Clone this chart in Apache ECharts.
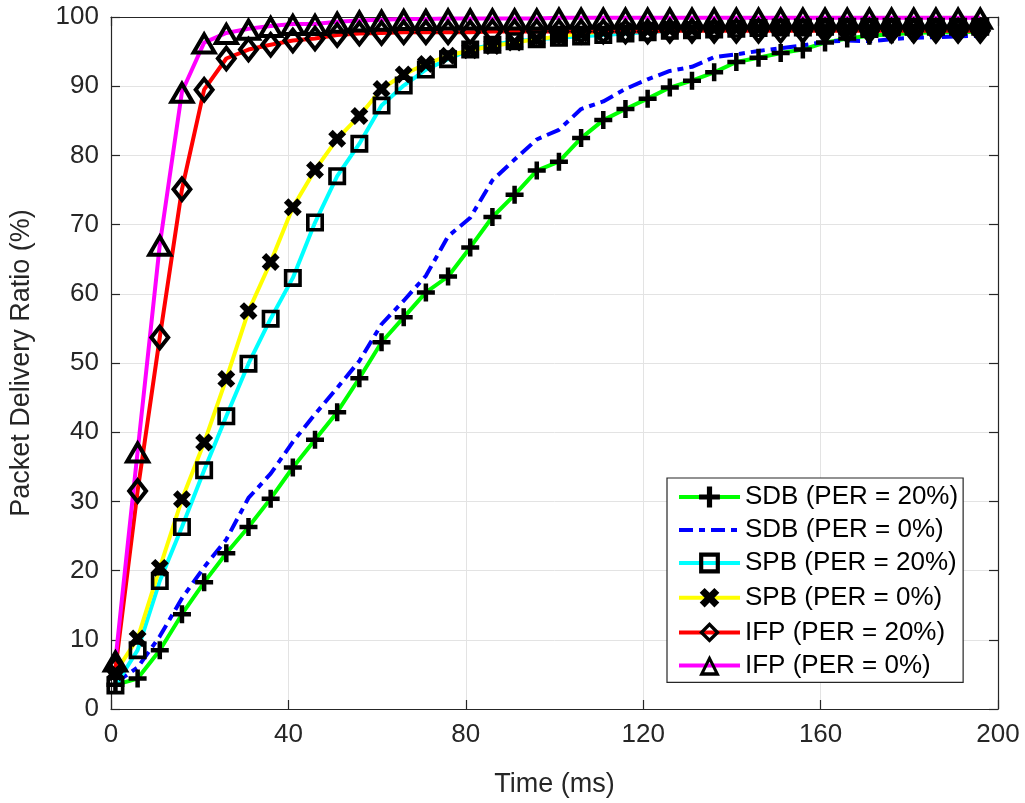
<!DOCTYPE html>
<html>
<head>
<meta charset="utf-8">
<script src="https://cdn.jsdelivr.net/npm/echarts@6/dist/echarts.min.js"></script>
<style>
html,body{margin:0;padding:0;background:#fff;}
#chart{width:1025px;height:803px;}
</style>
</head>
<body>
<div id="chart"></div>
<script>
const time = [1,6,11,16,21,26,31,36,41,46,51,56,61,66,71,76,81,86,91,96,101,106,111,116,121,126,131,136,141,146,151,156,161,166,171,176,181,186,191,196];
const sdb20 = [3.5,4.4,8.5,13.7,18.3,22.5,26.3,30.4,34.9,38.9,42.9,47.8,53.0,56.6,60.2,62.5,66.7,71.1,74.3,77.8,79.1,82.5,85.1,86.7,88.2,89.8,90.8,92.0,93.5,94.1,94.8,95.3,96.3,96.9,97.3,97.5,97.7,97.8,97.8,97.9];
const sdb0 = [3.8,6.0,10.5,16.0,20.5,24.5,30.5,34.0,38.6,42.6,46.4,50.3,55.6,59.0,62.6,68.3,71.0,76.4,79.4,82.3,83.7,86.7,87.8,89.6,91.0,92.2,92.8,94.2,94.6,95.1,95.5,95.9,96.4,96.6,96.5,96.8,97.0,97.1,97.2,97.3];
const spb20 = [3.4,8.5,18.5,26.3,34.5,42.3,49.9,56.4,62.3,70.3,77.0,81.7,87.2,90.1,92.4,93.9,95.3,96.0,96.5,96.8,97.0,97.2,97.4,97.6,97.8,98.0,98.1,98.2,98.3,98.4,98.5,98.5,98.6,98.6,98.6,98.6,98.6,98.6,98.6,98.6];
const spb0 = [5.3,10.2,20.4,30.3,38.5,47.7,57.5,64.6,72.5,77.9,82.4,85.7,89.6,91.7,93.2,94.4,95.2,95.8,96.3,96.8,97.2,97.6,97.9,98.0,98.1,98.2,98.2,98.3,98.3,98.3,98.3,98.3,98.3,98.3,98.3,98.3,98.3,98.3,98.3,98.3];
const ifp20 = [5.8,31.5,53.7,75.1,89.5,94.0,95.3,96.0,96.6,96.9,97.4,97.6,97.7,97.8,97.8,97.8,97.8,97.9,97.9,97.9,97.9,97.9,97.9,97.9,97.9,98.0,98.0,98.0,98.0,98.0,98.0,98.0,98.0,98.0,98.0,98.0,98.0,98.0,98.0,98.0];
const ifp0 = [7.0,37.2,67.1,89.2,96.3,97.7,98.3,98.7,99.0,99.0,99.3,99.5,99.6,99.7,99.7,99.8,99.8,99.8,99.8,99.8,99.9,99.9,99.9,99.9,99.9,99.9,99.9,99.9,99.9,99.9,99.9,99.9,99.9,99.9,99.9,99.9,99.9,99.9,99.9,99.9];
const xTicks = [0,40,80,120,160,200];
const yTicks = [0,10,20,30,40,50,60,70,80,90,100];
const names = ['SDB (PER = 20%)','SDB (PER = 0%)','SPB (PER = 20%)','SPB (PER = 0%)','IFP (PER = 20%)','IFP (PER = 0%)'];

const FONT = 'Liberation Sans, Arial, Helvetica, sans-serif';
const AX = '#262626';
// marker glyphs (filled outlines so the line shows through the hollow middle)
const PLUS = 'path://M3,0H5V3H8V5H5V8H3V5H0V3H3Z';
const XMARK = 'path://M3,0H6V3H9V6H6V9H3V6H0V3H3Z';
const SQUARE = 'path://M0,0H18V18H0Z M3.6,3.6V14.4H14.4V3.6Z';
const DIAMOND = 'path://M11,0L22,14L11,28L0,14Z M11,6.5L5.1,14L11,21.5L16.9,14Z';
const TRIANGLE = 'path://M14,0L28,24L0,24Z M14,7.9L7,20L21,20Z';
const pair = arr => time.map((t,i)=>[t, arr[i]]);

function mk(name, arr, lineColor, symbol, size, extra) {
  return Object.assign({
    name: name, type: 'line', data: pair(arr),
    symbol: symbol, symbolSize: size, symbolKeepAspect: false,
    lineStyle: {color: lineColor, width: 4},
    itemStyle: {color: '#000', borderWidth: 0},
    emphasis: {disabled: true},
    animation: false, clip: false
  }, extra || {});
}

const chart = echarts.init(document.getElementById('chart'), null, {renderer: 'canvas'});
const axisCommonX = {type:'value', min:0, max:200, interval:40};
const axisCommonY = {type:'value', min:0, max:100, interval:10};
chart.setOption({
  backgroundColor: '#fff',
  animation: false,
  grid: {left:105, right:27, top:17, bottom:83, containLabel:false},
  xAxis: [
    Object.assign({}, axisCommonX, {
      position:'bottom',
      name:'Time (ms)', nameLocation:'middle', nameGap:62,
      nameTextStyle:{fontFamily:FONT, fontSize:27, color:AX},
      axisLine:{show:true, onZero:false, lineStyle:{color:AX, width:1.2}},
      axisTick:{show:true, inside:true, length:9, lineStyle:{color:AX, width:1.2}},
      axisLabel:{fontFamily:FONT, fontSize:26, color:AX, margin:13,
        formatter: v => xTicks.includes(v) ? String(v) : ''},
      splitLine:{show:true, lineStyle:{color:'#e3e3e3', width:1}}
    }),
    Object.assign({}, axisCommonX, {
      position:'top',
      axisLine:{show:true, onZero:false, lineStyle:{color:AX, width:1.2}},
      axisTick:{show:true, inside:true, length:9, lineStyle:{color:AX, width:1.2}},
      axisLabel:{show:false}, splitLine:{show:false}
    })
  ],
  yAxis: [
    Object.assign({}, axisCommonY, {
      position:'left',
      name:'Packet Delivery Ratio (%)', nameLocation:'middle', nameGap:76,
      nameTextStyle:{fontFamily:FONT, fontSize:27, color:AX},
      axisLine:{show:true, onZero:false, lineStyle:{color:AX, width:1.2}},
      axisTick:{show:true, inside:true, length:9, lineStyle:{color:AX, width:1.2}},
      axisLabel:{fontFamily:FONT, fontSize:26, color:AX, margin:12,
        formatter: v => yTicks.includes(v) ? String(v) : ''},
      splitLine:{show:true, lineStyle:{color:'#e3e3e3', width:1}}
    }),
    Object.assign({}, axisCommonY, {
      position:'right',
      axisLine:{show:true, onZero:false, lineStyle:{color:AX, width:1.2}},
      axisTick:{show:true, inside:true, length:9, lineStyle:{color:AX, width:1.2}},
      axisLabel:{show:false}, splitLine:{show:false}
    })
  ],
  legend: {
    orient:'vertical', left:667, top:478,
    padding:[6, 5, 4, 10],
    itemWidth:61, itemHeight:26, itemGap:7,
    backgroundColor:'#fff', borderColor:'#262626', borderWidth:1.2, borderRadius:0,
    textStyle:{fontFamily:FONT, fontSize:26, color:'#000'},
    lineStyle:{width:4},
    itemStyle:{borderWidth:0},
    selectedMode:false,
    data: names
  },
  series: [
    mk(names[0], sdb20, '#00ff00', PLUS, 18),
    mk(names[1], sdb0, '#0000ff', 'none', 0,
       {itemStyle:{color:'none', borderWidth:0}, lineStyle:{color:'#0000ff', width:4, type:[14,6,6,6]}}),
    mk(names[2], spb20, '#00ffff', SQUARE, 18),
    mk(names[3], spb0, '#ffff00', XMARK, 19, {symbolRotate:45}),
    mk(names[4], ifp20, '#ff0000', DIAMOND, [22,28]),
    mk(names[5], ifp0, '#ff00ff', TRIANGLE, [28,24])
  ]
});
</script>
</body>
</html>
